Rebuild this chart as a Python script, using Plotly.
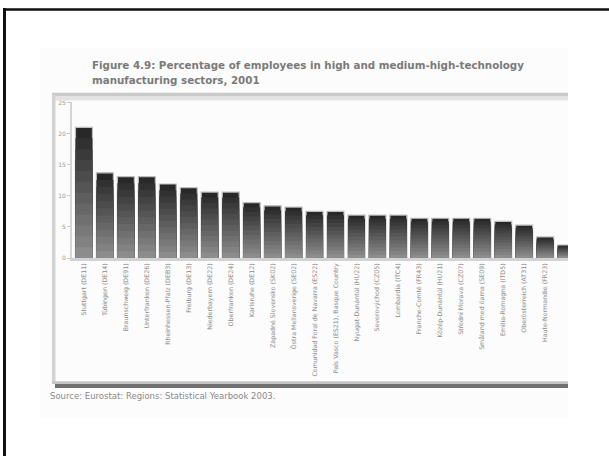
import plotly.graph_objects as go

# ---------------- data ----------------
categories = [
    "Stuttgart (DE11)", "Tübingen (DE14)", "Braunschweig (DE91)", "Unterfranken (DE26)",
    "Rheinhessen-Pfalz (DEB3)", "Freiburg (DE13)", "Niederbayern (DE22)", "Oberfranken (DE24)",
    "Karlsruhe (DE12)", "Západné Slovensko (SK02)", "Östra Mellansverige (SE02)",
    "Comunidad Foral de Navarra (ES22)", "País Vasco (ES21), Basque Country",
    "Nyugat-Dunántúl (HU22)", "Severovýchod (CZ05)", "Lombardia (ITC4)", "Franche-Comté (FR43)",
    "Közép-Dunántúl (HU21)", "Střední Morava (CZ07)", "Småland med öarna (SE09)",
    "Emilia-Romagna (ITD5)", "Oberösterreich (AT31)", "Haute-Normandie (FR23)",
    "Střední Čechy (CZ02)",
]
values = [21.0, 13.7, 13.1, 13.1, 11.9, 11.3, 10.6, 10.6, 8.9, 8.4, 8.2, 7.5,
          7.5, 6.9, 6.9, 6.9, 6.4, 6.4, 6.4, 6.4, 5.9, 5.3, 3.4, 2.1]
visible_labels = categories[:23]   # last label is cut off in the reference
y_ticks = [0, 5, 10, 15, 20, 25]

title_lines = ["Figure 4.9: Percentage of employees in high and medium-high-technology",
               "manufacturing sectors, 2001"]
source_text = "Source: Eurostat: Regions: Statistical Yearbook 2003."

# ---------------- helpers ----------------
W, H = 609, 459
def px(x):
    return x / W
def py(y):
    return 1 - y / H

# gradient (dark top -> light bottom) via overlaid fractional bars
N = 12
dark = (40, 40, 40)
light = (140, 140, 140)

fig = go.Figure()
for k in range(N):
    t = k / (N - 1)
    c = tuple(int(dark[i] + (light[i] - dark[i]) * t) for i in range(3))
    frac = 1 - k / N
    fig.add_trace(go.Bar(
        x=categories,
        y=[v * frac for v in values],
        marker=dict(color="rgb(%d,%d,%d)" % c,
                    line=dict(color="#bdbdbd", width=1.2 if k == 0 else 0)),
        hoverinfo="skip",
        showlegend=False,
    ))

shapes = [
    # faint page
    dict(type="rect", xref="paper", yref="paper", x0=px(40), x1=px(568), y0=py(420), y1=py(45),
         fillcolor="#fcfcfc", line=dict(width=0), layer="below"),
    # outer black frame (top and left)
    dict(type="line", xref="paper", yref="paper", x0=px(3), x1=px(609), y0=py(5.5), y1=py(5.5),
         line=dict(color="#111", width=2.5)),
    dict(type="line", xref="paper", yref="paper", x0=px(4.5), x1=px(4.5), y0=py(4), y1=py(459),
         line=dict(color="#111", width=3)),
    # chart box: top bands
    dict(type="rect", xref="paper", yref="paper", x0=px(52), x1=px(568), y0=py(94), y1=py(90),
         fillcolor="#c9c9c9", line=dict(width=0)),
    dict(type="rect", xref="paper", yref="paper", x0=px(52), x1=px(568), y0=py(98), y1=py(94),
         fillcolor="#e3e3e3", line=dict(width=0)),
    # chart box: left line
    dict(type="rect", xref="paper", yref="paper", x0=px(52), x1=px(55.5), y0=py(386), y1=py(92),
         fillcolor="#d3d3d3", line=dict(width=0)),
    # chart box: bottom bands
    dict(type="rect", xref="paper", yref="paper", x0=px(52), x1=px(568), y0=py(386), y1=py(383),
         fillcolor="#c4c4c4", line=dict(width=0)),
    dict(type="rect", xref="paper", yref="paper", x0=px(55), x1=px(568), y0=py(390), y1=py(386),
         fillcolor="#6f6f6f", line=dict(width=0)),
]

annotations = [
    dict(text="<b>%s</b>" % title_lines[0], xref="paper", yref="paper", x=px(90), y=py(62),
         xanchor="left", yanchor="middle", showarrow=False,
         font=dict(family="DejaVu Sans", size=10.3, color="#7a7a7a")),
    dict(text="<b>%s</b>" % title_lines[1], xref="paper", yref="paper", x=px(90), y=py(77),
         xanchor="left", yanchor="middle", showarrow=False,
         font=dict(family="DejaVu Sans", size=10.3, color="#7a7a7a")),
    dict(text=source_text, xref="paper", yref="paper", x=px(48), y=py(398),
         xanchor="left", yanchor="middle", showarrow=False,
         font=dict(family="DejaVu Sans", size=8.5, color="#8a8a8a")),
]

fig.update_layout(
    width=W, height=H,
    margin=dict(l=0, r=0, t=0, b=0),
    paper_bgcolor="white", plot_bgcolor="white",
    barmode="overlay", bargap=0.19,
    shapes=shapes, annotations=annotations,
    xaxis=dict(
        type="category", domain=[px(72), px(568)], range=[-0.57, 23.09],
        categoryorder="array", categoryarray=categories,
        tickmode="array", tickvals=visible_labels, ticktext=visible_labels,
        tickangle=-90, tickfont=dict(family="DejaVu Sans", size=6.3, color="#8c8c8c"),
        showline=True, linecolor="#d2d2d2", linewidth=2.5,
        ticks="", showgrid=False, zeroline=False, fixedrange=True,
    ),
    yaxis=dict(
        domain=[py(258), py(100)], range=[0, 25],
        tickmode="array", tickvals=y_ticks,
        tickfont=dict(family="DejaVu Sans", size=6, color="#9a9a9a"),
        ticks="outside", ticklen=3, tickcolor="#c8c8c8",
        showline=True, linecolor="#d5d5d5", linewidth=2,
        showgrid=False, zeroline=False, fixedrange=True,
    ),
)

fig.write_html(
    "out.html",
    config={"displayModeBar": False},
    post_script="document.body.style.margin='0px';document.body.style.padding='0px';"
                "document.body.style.overflow='hidden';",
)
